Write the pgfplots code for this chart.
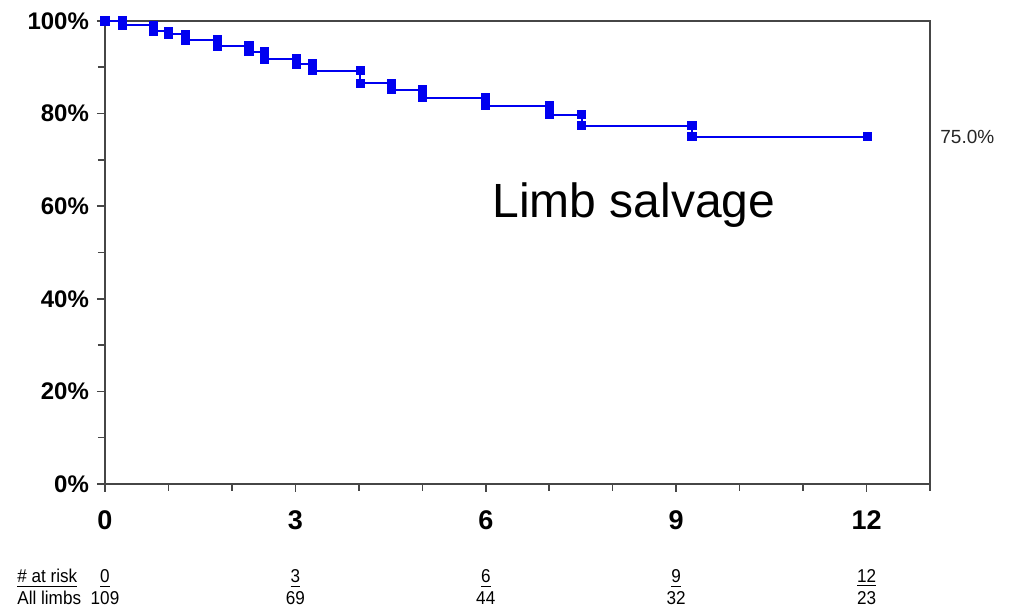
\documentclass[border=0pt]{standalone}
\usepackage{fontspec}
\setmainfont{Liberation Sans}
\newfontfamily\narrow[FakeStretch=0.92]{Liberation Sans}
\usepackage{pgfplots}
\pgfplotsset{compat=1.18}
\definecolor{kmblue}{RGB}{0,0,240}
\definecolor{axgray}{RGB}{70,70,70}
\begin{document}
\begin{tikzpicture}
\path[use as bounding box] (-52.5pt,-64.5pt) rectangle (452pt,242pt);
\begin{axis}[
  at={(0,0)}, anchor=south west,
  width=412.5pt, height=231.5pt, scale only axis,
  xmin=0, xmax=13, ymin=0, ymax=100,
  xtick={0,3,6,9,12}, xticklabels={0,3,6,9,12},
  minor xtick={1,2,4,5,7,8,10,11,13},
  ytick={0,20,40,60,80,100},
  yticklabels={0\%,20\%,40\%,60\%,80\%,100\%},
  minor ytick={10,30,50,70,90},
  tick pos=left, tick align=outside,
  major tick length=4pt, minor tick length=3.5pt,
  axis line style={axgray, line width=0.8pt},
  every tick/.style={axgray, line width=0.8pt},
  xticklabel style={font=\fontsize{13.5}{15}\selectfont\bfseries, yshift=-6pt},
  yticklabel style={font=\fontsize{12}{14}\selectfont\bfseries, xshift=-0.5pt},
  clip=false,
]
\addplot[kmblue, line width=1pt, mark=square*, mark size=1.8pt,
  mark options={solid, fill=kmblue, draw=kmblue}] coordinates {
  (0,100) (0.27,100) (0.27,99.1) (0.76,99.1) (0.76,97.8) (1.0,97.8) (1.0,97.1)
  (1.27,97.1) (1.27,95.9) (1.77,95.9) (1.77,94.6) (2.27,94.6) (2.27,93.4)
  (2.51,93.4) (2.51,91.8) (3.02,91.8) (3.02,90.7) (3.27,90.7) (3.27,89.3)
  (4.02,89.3) (4.02,86.5) (4.51,86.5) (4.51,85.2) (5.0,85.2) (5.0,83.4)
  (5.99,83.4) (5.99,81.7) (7.01,81.7) (7.01,79.8) (7.51,79.8) (7.51,77.4)
  (9.25,77.4) (9.25,75.0) (12.02,75.0)
};
\node[anchor=base west, inner sep=0pt, font=\fontsize{24}{28}\selectfont] at (axis cs:6.1,57.5) {Limb salvage};
\node[anchor=west, font=\fontsize{9.5}{11}\selectfont, text=black!85, inner sep=0pt] at (axis cs:13,75) [xshift=5pt] {75.0\%};
% risk table
\node[anchor=base west, inner sep=0pt, font=\narrow\fontsize{9.3}{11}\selectfont] at (rel axis cs:0,0) [xshift=-44pt, yshift=-49.5pt] {\underline{\# at risk}};
\node[anchor=base west, inner sep=0pt, font=\narrow\fontsize{9.3}{11}\selectfont] at (rel axis cs:0,0) [xshift=-44pt, yshift=-60.5pt] {All limbs};
\node[anchor=base, inner sep=0pt, font=\narrow\fontsize{9.3}{11}\selectfont] at (axis cs:0,0) [yshift=-49.5pt] {\underline{0}};
\node[anchor=base, inner sep=0pt, font=\narrow\fontsize{9.3}{11}\selectfont] at (axis cs:3,0) [yshift=-49.5pt] {\underline{3}};
\node[anchor=base, inner sep=0pt, font=\narrow\fontsize{9.3}{11}\selectfont] at (axis cs:6,0) [yshift=-49.5pt] {\underline{6}};
\node[anchor=base, inner sep=0pt, font=\narrow\fontsize{9.3}{11}\selectfont] at (axis cs:9,0) [yshift=-49.5pt] {\underline{9}};
\node[anchor=base, inner sep=0pt, font=\narrow\fontsize{9.3}{11}\selectfont] at (axis cs:12,0) [yshift=-49.5pt] {\underline{12}};
\node[anchor=base, inner sep=0pt, font=\narrow\fontsize{9.3}{11}\selectfont] at (axis cs:0,0) [yshift=-60.5pt] {109};
\node[anchor=base, inner sep=0pt, font=\narrow\fontsize{9.3}{11}\selectfont] at (axis cs:3,0) [yshift=-60.5pt] {69};
\node[anchor=base, inner sep=0pt, font=\narrow\fontsize{9.3}{11}\selectfont] at (axis cs:6,0) [yshift=-60.5pt] {44};
\node[anchor=base, inner sep=0pt, font=\narrow\fontsize{9.3}{11}\selectfont] at (axis cs:9,0) [yshift=-60.5pt] {32};
\node[anchor=base, inner sep=0pt, font=\narrow\fontsize{9.3}{11}\selectfont] at (axis cs:12,0) [yshift=-60.5pt] {23};
\end{axis}
\end{tikzpicture}
\end{document}
